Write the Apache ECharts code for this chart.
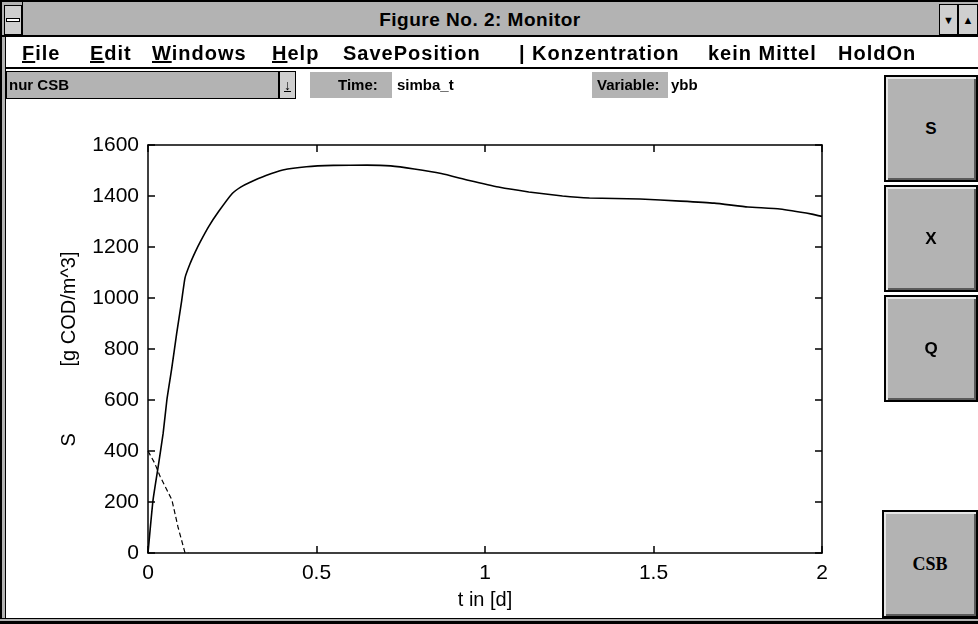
<!DOCTYPE html>
<html><head><meta charset="utf-8">
<script src="https://cdn.jsdelivr.net/npm/echarts@6/dist/echarts.min.js"></script>
<style>
body{margin:0;background:#fff;}
#wrap{position:relative;width:978px;height:624px;overflow:hidden;background:#fff;font-family:"Liberation Sans",Arial,sans-serif;}
#chart{position:absolute;left:0;top:0;width:978px;height:624px;}
.a{position:absolute;box-sizing:border-box;}
.g{background-color:#b3b3b3;}
.menu{position:absolute;top:41px;font-weight:bold;font-size:20px;letter-spacing:1px;color:#000;line-height:24px;white-space:nowrap;}
.btn{position:absolute;box-sizing:border-box;border:2px solid #000;background:#b3b3b3;box-shadow:inset 2px 2px 0 #e6e6e6, inset -2px -2px 0 #5a5a5a;display:flex;align-items:center;justify-content:center;font-weight:bold;font-size:17px;color:#000;}
.lbl{position:absolute;font-weight:bold;font-size:15px;color:#000;line-height:20px;white-space:nowrap;}
</style></head>
<body><div id="wrap">
<div id="chart"></div>
<!-- window frame -->
<div class="a" style="left:0;top:0;width:978px;height:624px;border:2px solid #000;border-right:none;"></div>
<div class="a" style="left:2px;top:2px;width:4px;height:618px;background:#b3b3b3;border-right:1px solid #000;"></div>
<div class="a" style="left:0;top:618px;width:978px;height:4px;background:#b3b3b3;border-top:1px solid #000;border-bottom:1px solid #000;"></div>
<!-- title bar -->
<div class="a g" style="left:2px;top:2px;width:976px;height:35px;border-bottom:2px solid #000;"></div>
<div class="a" style="left:4px;top:5px;width:18px;height:30px;background:#cfcfcf;border:1px solid #000;"></div>
<div class="a" style="left:6px;top:18px;width:14px;height:4px;background:#fff;border:1px solid #000;"></div>
<div class="a" style="left:22px;top:2px;width:1px;height:35px;background:#000;"></div>
<div class="a" style="left:22px;top:4px;width:916px;height:31px;display:flex;align-items:center;justify-content:center;font-weight:bold;font-size:19px;letter-spacing:0.5px;color:#000;">Figure No. 2: Monitor</div>
<div class="a" style="left:939px;top:4px;width:19px;height:31px;background:#cfcfcf;border:1px solid #000;display:flex;align-items:center;justify-content:center;font-size:11px;">&#9660;</div>
<div class="a" style="left:958px;top:4px;width:20px;height:31px;background:#cfcfcf;border:1px solid #000;display:flex;align-items:center;justify-content:center;font-size:11px;">&#9650;</div>
<!-- menu bar -->
<div class="a" style="left:6px;top:67px;width:972px;height:2px;background:#000;"></div>
<div class="menu" style="left:22px;"><u>F</u>ile</div>
<div class="menu" style="left:90px;"><u>E</u>dit</div>
<div class="menu" style="left:152px;"><u>W</u>indows</div>
<div class="menu" style="left:272px;"><u>H</u>elp</div>
<div class="menu" style="left:343px;">SavePosition</div>
<div class="menu" style="left:519px;">|</div>
<div class="menu" style="left:532px;">Konzentration</div>
<div class="menu" style="left:708px;">kein Mittel</div>
<div class="menu" style="left:838px;">HoldOn</div>
<!-- row 3 -->
<div class="a g" style="left:6px;top:71px;width:273px;height:28px;border:1px solid #000;"></div>
<div class="lbl" style="left:9px;top:75px;">nur CSB</div>
<div class="a" style="left:279px;top:71px;width:17px;height:28px;background:#cfcfcf;border:1px solid #000;display:flex;align-items:center;justify-content:center;font-weight:bold;font-size:14px;"><u>&#8595;</u></div>
<div class="a g" style="left:310px;top:72px;width:82px;height:26px;"></div>
<div class="lbl" style="left:338px;top:75px;">Time:</div>
<div class="lbl" style="left:397px;top:75px;">simba_t</div>
<div class="a g" style="left:592px;top:72px;width:76px;height:26px;"></div>
<div class="lbl" style="left:597px;top:75px;">Variable:</div>
<div class="lbl" style="left:671px;top:75px;">ybb</div>
<!-- buttons -->
<div class="btn" style="left:884px;top:75px;width:94px;height:107px;">S</div>
<div class="btn" style="left:884px;top:185px;width:94px;height:107px;">X</div>
<div class="btn" style="left:884px;top:295px;width:94px;height:107px;">Q</div>
<div class="btn" style="left:882px;top:510px;width:96px;height:108px;font-family:'Liberation Serif',serif;font-size:18px;">CSB</div>
</div>
<script>
// main curve S over time t
const tMain = [0, 0.015, 0.03, 0.045, 0.056, 0.07, 0.085, 0.1, 0.11, 0.125, 0.14, 0.155, 0.18, 0.21, 0.25, 0.275, 0.3, 0.35, 0.4, 0.47, 0.55, 0.65, 0.72, 0.79, 0.87, 0.95, 1.04, 1.13, 1.23, 1.31, 1.46, 1.58, 1.68, 1.78, 1.875, 1.97, 2.0];
const sMain = [0, 208, 337, 470, 600, 720, 860, 990, 1080, 1135, 1180, 1220, 1280, 1340, 1410, 1435, 1452, 1480, 1502, 1515, 1520, 1521, 1518, 1506, 1488, 1462, 1435, 1416, 1400, 1392, 1388, 1380, 1372, 1357, 1349, 1329, 1320];
// dashed curve
const tDash = [0, 0.02, 0.036, 0.055, 0.071, 0.089, 0.11, 0.12];
const sDash = [400, 352, 300, 250, 208, 102, 0, 0];
// axes
const xMin = 0, xMax = 2, xStep = 0.5;
const yMin = 0, yMax = 1600, yStep = 200;
const xName = 't in [d]';
const yName = 'S            [g COD/m^3]';

const chart = echarts.init(document.getElementById('chart'), null, {renderer:'canvas'});
const lineCol = '#000';
const fam = 'Liberation Sans';
const axBase = (extra) => Object.assign({
  type:'value', splitLine:{show:false},
  axisLine:{show:true,onZero:false,lineStyle:{color:lineCol,width:1.5}},
  axisTick:{show:true,inside:true,length:7,lineStyle:{color:lineCol,width:1.5}}
}, extra);
chart.setOption({
  animation:false,
  backgroundColor:'transparent',
  grid:{left:148,right:156,top:145,bottom:71,containLabel:false},
  xAxis:[
    axBase({min:xMin,max:xMax,interval:xStep,position:'bottom',
      axisLabel:{color:'#000',fontSize:21,fontFamily:fam,margin:10,formatter:(v)=>String(v)},
      name:xName,nameLocation:'middle',nameGap:37,
      nameTextStyle:{color:'#000',fontSize:20,fontFamily:fam}}),
    axBase({min:xMin,max:xMax,interval:xStep,position:'top',axisLabel:{show:false}})
  ],
  yAxis:[
    axBase({min:yMin,max:yMax,interval:yStep,position:'left',
      axisLabel:{color:'#000',fontSize:21,fontFamily:fam,margin:9,formatter:(v)=>String(v)},
      name:yName,nameLocation:'middle',nameGap:69,
      nameTextStyle:{color:'#000',fontSize:20,fontFamily:fam}}),
    axBase({min:yMin,max:yMax,interval:yStep,position:'right',axisLabel:{show:false}})
  ],
  series:[
    {type:'line',data:tMain.map((t,i)=>[t,sMain[i]]),showSymbol:false,smooth:0.15,
     lineStyle:{color:lineCol,width:1.6},z:3},
    {type:'line',data:tDash.map((t,i)=>[t,sDash[i]]),showSymbol:false,
     lineStyle:{color:lineCol,width:1.2,type:[5,3]},z:3}
  ]
});
</script>
</body></html>
